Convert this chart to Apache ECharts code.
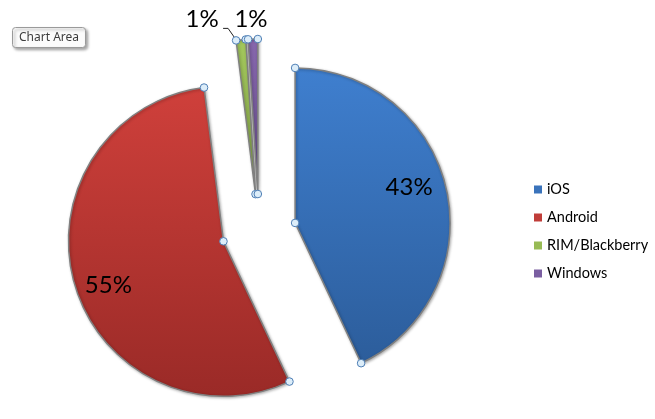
<!DOCTYPE html>
<html>
<head>
<meta charset="utf-8">
<script src="https://cdn.jsdelivr.net/npm/echarts@6/dist/echarts.min.js"></script>
<style>
  html, body { margin: 0; padding: 0; background: #fff; }
  #chart { width: 655px; height: 419px; }
</style>
</head>
<body>
<div id="chart"></div>
<script>
const categories = ['iOS', 'Android', 'RIM/Blackberry', 'Windows'];
const shares = [43, 55, 1, 1];

// light top / dark bottom, Excel 2007 style fills
const topColors = ['#3f7fcf', '#cf403b', '#a3c85c', '#8767ad'];
const bottomColors = ['#2c5d9b', '#9a2a27', '#86a64a', '#6a5190'];
const legendColors = ['#3a73bb', '#c03d39', '#98bb55', '#7a5ea1'];

const CENTER = [259, 231];
const RADIUS = 155;
const EXPLODE = 37;
const FONT = "Lato, 'Open Sans', sans-serif";

const chart = echarts.init(document.getElementById('chart'));

// exploded slice geometry (math angles, y flipped for screen)
function slices() {
  const total = shares.reduce((a, b) => a + b, 0);
  const out = [];
  let start = 90;
  shares.forEach(v => {
    const end = start - v / total * 360;
    const mid = (start + end) / 2 * Math.PI / 180;
    const cx = CENTER[0] + EXPLODE * Math.cos(mid);
    const cy = CENTER[1] - EXPLODE * Math.sin(mid);
    const at = a => [cx + RADIUS * Math.cos(a * Math.PI / 180), cy - RADIUS * Math.sin(a * Math.PI / 180)];
    out.push({ vertex: [cx, cy], start: at(start), end: at(end), mid: at((start + end) / 2) });
    start = end;
  });
  return out;
}
const geom = slices();

const fills = categories.map((_, i) => new echarts.graphic.LinearGradient(0, 0, 0, 1, [
  { offset: 0, color: topColors[i] },
  { offset: 1, color: bottomColors[i] },
]));

const sliceData = categories.map((name, i) => ({
  name,
  value: shares[i],
  selected: true,
  itemStyle: { color: fills[i] },
}));

// transparent twin with a bigger radius so the inner labels sit further out
const labelData = categories.map((name, i) => ({
  name,
  value: shares[i],
  selected: true,
  label: { show: shares[i] >= 5 },
}));

// Excel selection handles: vertex + both arc ends of every slice
const handles = [];
geom.forEach(g => [g.vertex, g.start, g.end].forEach(p => handles.push({
  type: 'circle',
  shape: { cx: p[0], cy: p[1], r: 3.8 },
  style: { fill: '#dcedf9', stroke: '#4f7fb5', lineWidth: 1 },
  z: 100,
})));

// tiny slices: label above the tip, RIM one pulled left with a leader line
const smallLabels = [];
shares.forEach((v, i) => {
  if (v >= 5) return;
  const g = geom[i];
  const text = { type: 'text', z: 90, style: {
    text: v + '%', fontFamily: FONT, fontSize: 24, fill: '#000', align: 'center', verticalAlign: 'middle',
  } };
  if (i === 2) {
    const a = g.start;
    text.x = a[0] - 34;
    text.y = a[1] - 21;
    smallLabels.push({
      type: 'polyline', z: 90,
      shape: { points: [[a[0] - 1, a[1] - 2], [a[0] - 8, a[1] - 12], [a[0] - 13, a[1] - 12]] },
      style: { stroke: '#202020', lineWidth: 1, fill: null },
    });
  } else {
    text.x = g.mid[0] - 2;
    text.y = g.mid[1] - 20;
  }
  smallLabels.push(text);
});

function bigLabelLayout(params) {
  return params.dataIndex === 0 ? { dx: -6, dy: -9 } : { dx: 3, dy: 10 };
}

chart.setOption({
  animation: false,
  legend: {
    orient: 'vertical',
    left: 529,
    top: 177,
    itemWidth: 8,
    itemHeight: 8,
    itemGap: 13,
    icon: 'rect',
    itemStyle: { borderWidth: 0 },
    data: categories.map((name, i) => ({ name, itemStyle: { color: legendColors[i], borderWidth: 0 } })),
    textStyle: { fontFamily: FONT, fontSize: 14.5, color: '#000' },
  },
  graphic: [
    {
      type: 'group',
      left: 12,
      top: 27,
      children: [
        {
          type: 'rect',
          shape: { x: 0, y: 0, width: 73, height: 20, r: 3 },
          style: {
            fill: '#fbfbfb', stroke: '#9a9a9a', lineWidth: 1,
            shadowColor: 'rgba(0,0,0,0.35)', shadowBlur: 3, shadowOffsetX: 2, shadowOffsetY: 2,
          },
        },
        {
          type: 'text',
          x: 36.5,
          y: 10,
          style: {
            text: 'Chart Area', fontFamily: "'Noto Sans', sans-serif", fontSize: 12,
            fill: '#3c3c3c', align: 'center', verticalAlign: 'middle',
          },
        },
      ],
    },
    ...handles,
    ...smallLabels,
  ],
  series: [
    {
      type: 'pie',
      center: CENTER,
      radius: RADIUS,
      startAngle: 90,
      clockwise: true,
      selectedMode: 'multiple',
      selectedOffset: EXPLODE,
      silent: true,
      itemStyle: {
        borderColor: '#808080',
        borderWidth: 1.5,
        shadowColor: 'rgba(0,0,0,0.3)',
        shadowBlur: 3,
        shadowOffsetX: 1,
        shadowOffsetY: 1,
      },
      label: { show: false },
      labelLine: { show: false },
      data: sliceData,
    },
    {
      type: 'pie',
      center: CENTER,
      radius: 240,
      startAngle: 90,
      clockwise: true,
      selectedMode: 'multiple',
      selectedOffset: EXPLODE,
      silent: true,
      z: 5,
      itemStyle: { color: 'rgba(0,0,0,0)' },
      label: {
        position: 'inner',
        formatter: '{d}%',
        fontFamily: FONT,
        fontSize: 24,
        color: '#000',
      },
      labelLine: { show: false },
      labelLayout: bigLabelLayout,
      data: labelData,
    },
  ],
});
</script>
</body>
</html>
